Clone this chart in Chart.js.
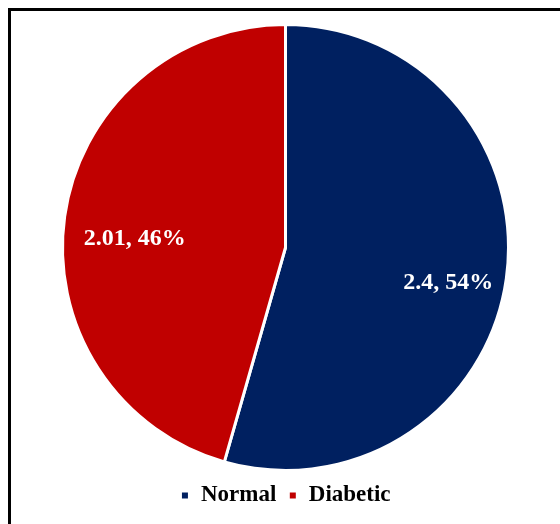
<!DOCTYPE html>
<html>
<head>
<meta charset="utf-8">
<script src="https://cdn.jsdelivr.net/npm/chart.js@4"></script>
<style>
  html, body { margin: 0; padding: 0; background: #fff; }
  .frame {
    position: absolute; left: 8px; top: 8px; width: 552px; height: 516px;
    border-left: 3px solid #000; border-top: 3px solid #000; box-sizing: border-box;
  }
  #pie-graph { display: block; }
</style>
</head>
<body>
<div class="frame"><canvas id="pie-graph" width="549" height="506"></canvas></div>
<script>
const ctx = document.getElementById('pie-graph');
const groupLabels = ['Normal', 'Diabetic'];
const groupValues = [2.4, 2.01];
const groupPercents = ['54%', '46%'];
const groupColors = ['#002060', '#C00000'];

// 조각 안에 "값, 퍼센트" 라벨
const sliceLabels = {
  id: 'sliceLabels',
  afterDatasetsDraw(chart) {
    const c = chart.ctx;
    const meta = chart.getDatasetMeta(0);
    c.save();
    c.fillStyle = '#fff';
    c.font = 'bold 24px "Liberation Serif", "Times New Roman", serif';
    c.textAlign = 'center';
    c.textBaseline = 'top';
    meta.data.forEach((arc, i) => {
      const p = arc.getProps(['x', 'y', 'startAngle', 'endAngle', 'outerRadius']);
      const mid = (p.startAngle + p.endAngle) / 2;
      const r = p.outerRadius * 0.71;
      c.fillText(groupValues[i] + ', ' + groupPercents[i], p.x + Math.cos(mid) * r + 6, p.y + Math.sin(mid) * r + 1);
    });
    c.restore();
  }
};

new Chart(ctx, {
  type: 'pie',
  data: {
    labels: groupLabels,
    datasets: [{
      data: groupValues,
      backgroundColor: groupColors,
      borderColor: '#fff',
      borderWidth: 3
    }]
  },
  options: {
    responsive: false,
    animation: false,
    layout: { padding: { top: 12, bottom: 0 } },
    plugins: {
      tooltip: { enabled: false },
      legend: {
        position: 'bottom',
        labels: {
          usePointStyle: true,
          pointStyle: 'rect',
          boxWidth: 9,
          boxHeight: 9,
          padding: 12,
          color: '#000',
          font: { family: '"Liberation Serif", "Times New Roman", serif', size: 23, weight: 'bold' }
        }
      }
    }
  },
  plugins: [sliceLabels]
});
</script>
</body>
</html>
